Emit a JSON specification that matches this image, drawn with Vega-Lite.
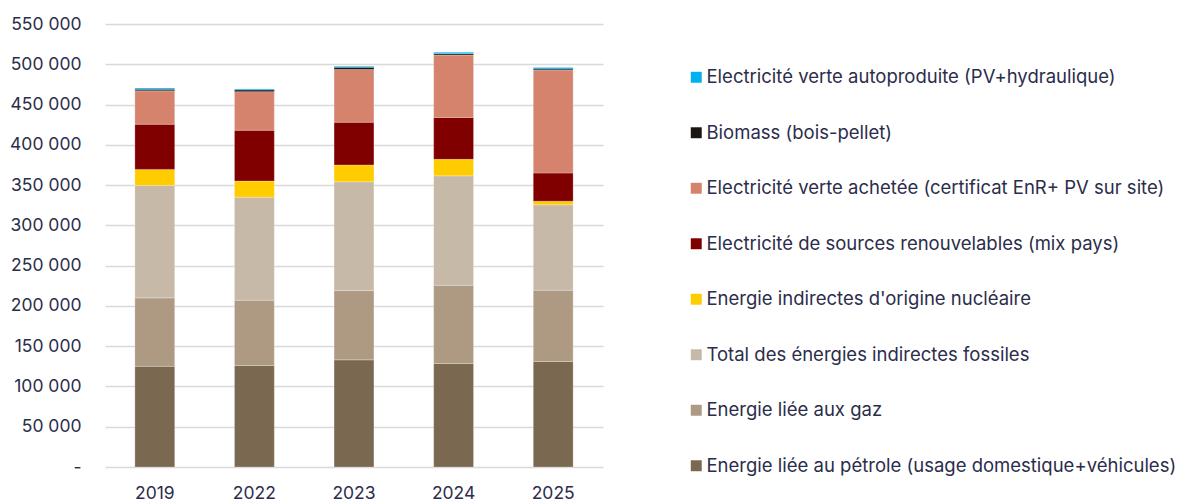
{
  "$schema": "https://vega.github.io/schema/vega-lite/v6.json",
  "autosize": {"type": "none"},
  "padding": {"left": 105, "top": 24, "right": 577, "bottom": 36},
  "width": 498,
  "height": 443,
  "background": "white",
  "config": {
    "font": "Inter",
    "view": {"stroke": null}
  },
  "data": {
    "values": [
      {"annee": "2019", "energie": "Energie liée au pétrole (usage domestique+véhicules)", "valeur": 125000},
      {"annee": "2019", "energie": "Energie liée aux gaz", "valeur": 85000},
      {"annee": "2019", "energie": "Total des énergies indirectes fossiles", "valeur": 139500},
      {"annee": "2019", "energie": "Energie indirectes d'origine nucléaire", "valeur": 20000},
      {"annee": "2019", "energie": "Electricité de sources renouvelables (mix pays)", "valeur": 56000},
      {"annee": "2019", "energie": "Electricité verte achetée (certificat EnR+ PV sur site)", "valeur": 41500},
      {"annee": "2019", "energie": "Biomass (bois-pellet)", "valeur": 2000},
      {"annee": "2019", "energie": "Electricité verte autoproduite (PV+hydraulique)", "valeur": 1500},

      {"annee": "2022", "energie": "Energie liée au pétrole (usage domestique+véhicules)", "valeur": 126000},
      {"annee": "2022", "energie": "Energie liée aux gaz", "valeur": 81000},
      {"annee": "2022", "energie": "Total des énergies indirectes fossiles", "valeur": 128000},
      {"annee": "2022", "energie": "Energie indirectes d'origine nucléaire", "valeur": 20000},
      {"annee": "2022", "energie": "Electricité de sources renouvelables (mix pays)", "valeur": 63000},
      {"annee": "2022", "energie": "Electricité verte achetée (certificat EnR+ PV sur site)", "valeur": 48000},
      {"annee": "2022", "energie": "Biomass (bois-pellet)", "valeur": 2200},
      {"annee": "2022", "energie": "Electricité verte autoproduite (PV+hydraulique)", "valeur": 1000},

      {"annee": "2023", "energie": "Energie liée au pétrole (usage domestique+véhicules)", "valeur": 133000},
      {"annee": "2023", "energie": "Energie liée aux gaz", "valeur": 86000},
      {"annee": "2023", "energie": "Total des énergies indirectes fossiles", "valeur": 135000},
      {"annee": "2023", "energie": "Energie indirectes d'origine nucléaire", "valeur": 21000},
      {"annee": "2023", "energie": "Electricité de sources renouvelables (mix pays)", "valeur": 53000},
      {"annee": "2023", "energie": "Electricité verte achetée (certificat EnR+ PV sur site)", "valeur": 65500},
      {"annee": "2023", "energie": "Biomass (bois-pellet)", "valeur": 2800},
      {"annee": "2023", "energie": "Electricité verte autoproduite (PV+hydraulique)", "valeur": 1200},

      {"annee": "2024", "energie": "Energie liée au pétrole (usage domestique+véhicules)", "valeur": 128500},
      {"annee": "2024", "energie": "Energie liée aux gaz", "valeur": 97000},
      {"annee": "2024", "energie": "Total des énergies indirectes fossiles", "valeur": 136000},
      {"annee": "2024", "energie": "Energie indirectes d'origine nucléaire", "valeur": 20500},
      {"annee": "2024", "energie": "Electricité de sources renouvelables (mix pays)", "valeur": 52000},
      {"annee": "2024", "energie": "Electricité verte achetée (certificat EnR+ PV sur site)", "valeur": 77500},
      {"annee": "2024", "energie": "Biomass (bois-pellet)", "valeur": 1700},
      {"annee": "2024", "energie": "Electricité verte autoproduite (PV+hydraulique)", "valeur": 1600},

      {"annee": "2025", "energie": "Energie liée au pétrole (usage domestique+véhicules)", "valeur": 131000},
      {"annee": "2025", "energie": "Energie liée aux gaz", "valeur": 88500},
      {"annee": "2025", "energie": "Total des énergies indirectes fossiles", "valeur": 106000},
      {"annee": "2025", "energie": "Energie indirectes d'origine nucléaire", "valeur": 4500},
      {"annee": "2025", "energie": "Electricité de sources renouvelables (mix pays)", "valeur": 35000},
      {"annee": "2025", "energie": "Electricité verte achetée (certificat EnR+ PV sur site)", "valeur": 128000},
      {"annee": "2025", "energie": "Biomass (bois-pellet)", "valeur": 1200},
      {"annee": "2025", "energie": "Electricité verte autoproduite (PV+hydraulique)", "valeur": 1700}
    ]
  },
  "transform": [
    {"calculate": "indexof(['Energie liée au pétrole (usage domestique+véhicules)','Energie liée aux gaz','Total des énergies indirectes fossiles',\"Energie indirectes d'origine nucléaire\",'Electricité de sources renouvelables (mix pays)','Electricité verte achetée (certificat EnR+ PV sur site)','Biomass (bois-pellet)','Electricité verte autoproduite (PV+hydraulique)'], datum.energie)", "as": "rang"}
  ],
  "mark": {"type": "bar", "stroke": "#ffffff", "strokeWidth": 0.4, "strokeOpacity": 0.6},
  "encoding": {
    "x": {
      "field": "annee",
      "type": "nominal",
      "scale": {"paddingInner": 0.6, "paddingOuter": 0.3},
      "axis": {
        "title": null,
        "labelAngle": 0,
        "labelFontSize": 17.5,
        "labelColor": "#2B2D4A",
        "labelPadding": 17,
        "ticks": false,
        "domain": false
      }
    },
    "y": {
      "field": "valeur",
      "type": "quantitative",
      "aggregate": "sum",
      "stack": "zero",
      "scale": {"domain": [0, 550000], "nice": false},
      "axis": {
        "title": null,
        "values": [0, 50000, 100000, 150000, 200000, 250000, 300000, 350000, 400000, 450000, 500000, 550000],
        "labelExpr": "datum.value == 0 ? '-' : replace(format(datum.value, ','), regexp(',', 'g'), ' ')",
        "labelFontSize": 17.5,
        "labelColor": "#2B2D4A",
        "labelPadding": 24,
        "ticks": false,
        "domain": false,
        "grid": true,
        "gridColor": "#D9D9D9",
        "gridWidth": 1.5
      }
    },
    "color": {
      "field": "energie",
      "type": "nominal",
      "scale": {
        "domain": [
          "Electricité verte autoproduite (PV+hydraulique)",
          "Biomass (bois-pellet)",
          "Electricité verte achetée (certificat EnR+ PV sur site)",
          "Electricité de sources renouvelables (mix pays)",
          "Energie indirectes d'origine nucléaire",
          "Total des énergies indirectes fossiles",
          "Energie liée aux gaz",
          "Energie liée au pétrole (usage domestique+véhicules)"
        ],
        "range": ["#00B0F0", "#1A1613", "#D5836D", "#800000", "#FFCC00", "#C6B9A8", "#AE9A82", "#7B6851"]
      },
      "legend": {
        "title": null,
        "orient": "none",
        "legendX": 582,
        "legendY": 44,
        "symbolType": "square",
        "symbolSize": 120,
        "symbolStrokeWidth": 0,
        "labelFontSize": 18.5,
        "labelColor": "#2B2D4A",
        "labelOffset": 1,
        "labelLimit": 600,
        "rowPadding": 36.5
      }
    },
    "order": {"field": "rang", "type": "quantitative", "sort": "ascending"}
  }
}
